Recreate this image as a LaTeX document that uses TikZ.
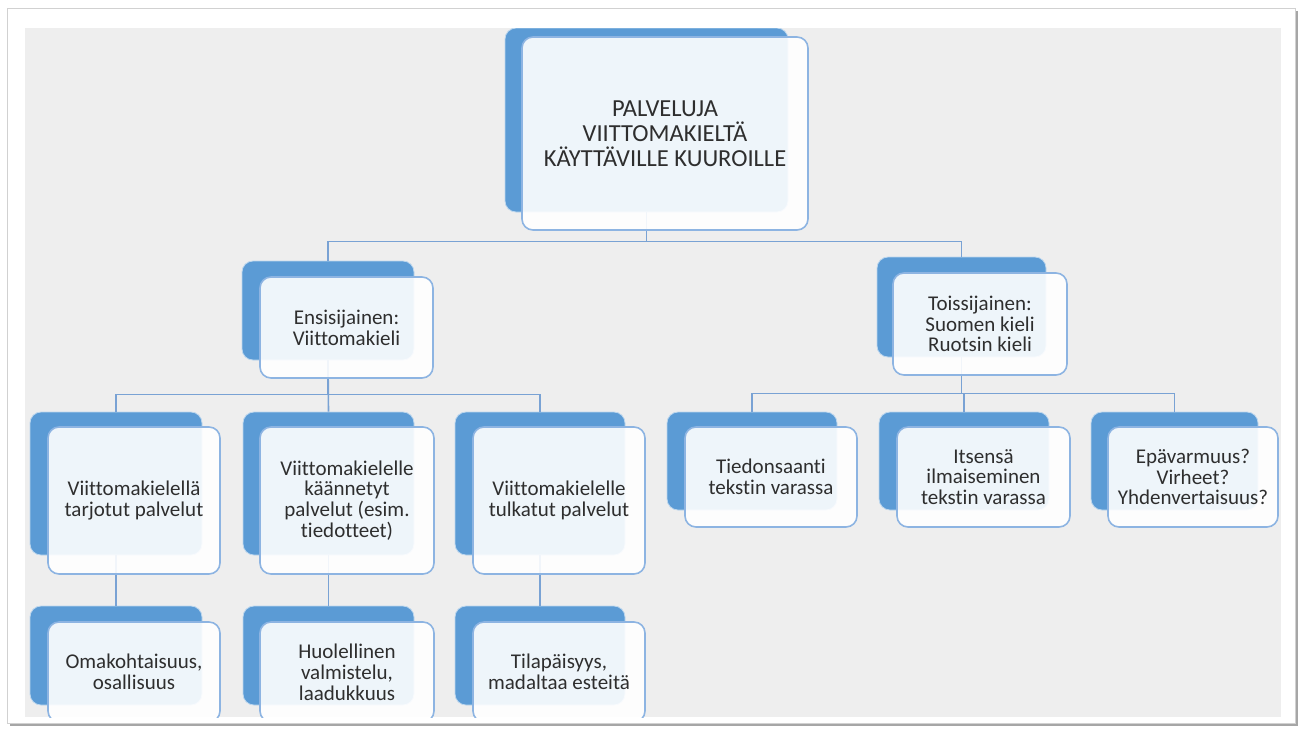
\documentclass[tikz,border=0pt]{standalone}
\usepackage{fontspec}
\setmainfont{Carlito}[Ligatures=NoCommon]
\usetikzlibrary{calc}
\definecolor{backblue}{HTML}{5B9BD5}
\definecolor{frontedge}{HTML}{8DB4E2}
\definecolor{linkblue}{HTML}{79A2D4}
\definecolor{slidegray}{HTML}{EEEEEE}
\definecolor{txt}{HTML}{2E2E2E}
\tikzset{
  backbox/.style={rectangle, rounded corners=11pt, fill=backblue, draw=white!60!backblue, line width=0.8pt, inner sep=0pt},
  frontbox/.style={rectangle, rounded corners=11pt, draw=frontedge, line width=1.6pt, fill=white, fill opacity=0.9, text opacity=1, text=txt, align=center, inner sep=0pt, font=\fontsize{21}{20.8}\selectfont},
  rootfont/.style={font=\fontsize{24.5}{25}\selectfont},
  link/.style={draw=linkblue, line width=1.6pt},
}
\begin{document}
\begin{tikzpicture}[x=1pt,y=-1pt]
\useasboundingbox (0,0) rectangle (1300,729);
\fill[white] (0,0) rectangle (1300,729);
% slide frame with shadow
\fill[black!35] (10,11) rectangle (1298,726);
\fill[white, draw=black!18, line width=0.8pt] (7,8) rectangle (1295,723);
\fill[slidegray] (25,28) rectangle (1281,717);
\begin{scope}
\clip (25,28) rectangle (1281,717);
% back rectangles
\node[backbox, minimum width=283, minimum height=184] (rootb) at (646.5,120) {};
\node[backbox, minimum width=172, minimum height=99] (l2ab) at (328,310.5) {};
\node[backbox, minimum width=169, minimum height=100] (l2bb) at (961.5,307) {};
\node[backbox, minimum width=172, minimum height=143] (l3ab) at (116,483.5) {};
\node[backbox, minimum width=171, minimum height=143] (l3bb) at (328.5,483.5) {};
\node[backbox, minimum width=170, minimum height=143] (l3cb) at (540,483.5) {};
\node[backbox, minimum width=170, minimum height=98] (r3ab) at (752,461) {};
\node[backbox, minimum width=170, minimum height=98] (r3bb) at (964,461) {};
\node[backbox, minimum width=167, minimum height=98] (r3cb) at (1174.5,461) {};
\node[backbox, minimum width=172, minimum height=99] (l4ab) at (116,655.5) {};
\node[backbox, minimum width=171, minimum height=99] (l4bb) at (328.5,655.5) {};
\node[backbox, minimum width=170, minimum height=99] (l4cb) at (540,655.5) {};
% connectors
\draw[link] (rootb.south) -- ++(0,29) -| (l2ab.north);
\draw[link] (rootb.south) -- ++(0,29) -| (l2bb.north);
\draw[link] (l2ab.south) -- ++(0,34) -| (l3ab.north);
\draw[link] (l2ab.south) -- (l3bb.north);
\draw[link] (l2ab.south) -- ++(0,34) -| (l3cb.north);
\draw[link] (l2bb.south) -- ++(0,36) -| (r3ab.north);
\draw[link] (l2bb.south) -- ++(0,36) -| (r3bb.north);
\draw[link] (l2bb.south) -- ++(0,36) -| (r3cb.north);
\draw[link] (l3ab.south) -- (l4ab.north);
\draw[link] (l3bb.south) -- (l4bb.north);
\draw[link] (l3cb.south) -- (l4cb.north);
% front boxes
\node[frontbox, rootfont, minimum width=286, minimum height=193] (root) at (665,133.5) {PALVELUJA\\VIITTOMAKIELTÄ\\KÄYTTÄVILLE KUUROILLE};
\node[frontbox, minimum width=173, minimum height=101] (l2a) at (346.5,327.5) {Ensisijainen:\\Viittomakieli};
\node[frontbox, minimum width=174, minimum height=102] (l2b) at (980,324) {Toissijainen:\\Suomen kieli\\Ruotsin kieli};
\node[frontbox, minimum width=172, minimum height=147] (l3a) at (134,500.5) {Viittomakielellä\\tarjotut palvelut};
\node[frontbox, minimum width=174, minimum height=147] (l3b) at (347,500.5) {Viittomakielelle\\käännetyt\\palvelut (esim.\\tiedotteet)};
\node[frontbox, minimum width=172, minimum height=147] (l3c) at (559,500.5) {Viittomakielelle\\tulkatut palvelut};
\node[frontbox, minimum width=172, minimum height=100] (r3a) at (771,477) {Tiedonsaanti\\tekstin varassa};
\node[frontbox, minimum width=173, minimum height=100] (r3b) at (983.5,477) {Itsensä\\ilmaiseminen\\tekstin varassa};
\node[frontbox, minimum width=170, minimum height=100] (r3c) at (1193,477) {Epävarmuus?\\Virheet?\\Yhdenvertaisuus?};
\node[frontbox, minimum width=172, minimum height=100] (l4a) at (134,672) {Omakohtaisuus,\\osallisuus};
\node[frontbox, minimum width=174, minimum height=100] (l4b) at (347,672) {Huolellinen\\valmistelu,\\laadukkuus};
\node[frontbox, minimum width=172, minimum height=100] (l4c) at (559,672) {Tilapäisyys,\\madaltaa esteitä};
\end{scope}
\end{tikzpicture}
\end{document}
